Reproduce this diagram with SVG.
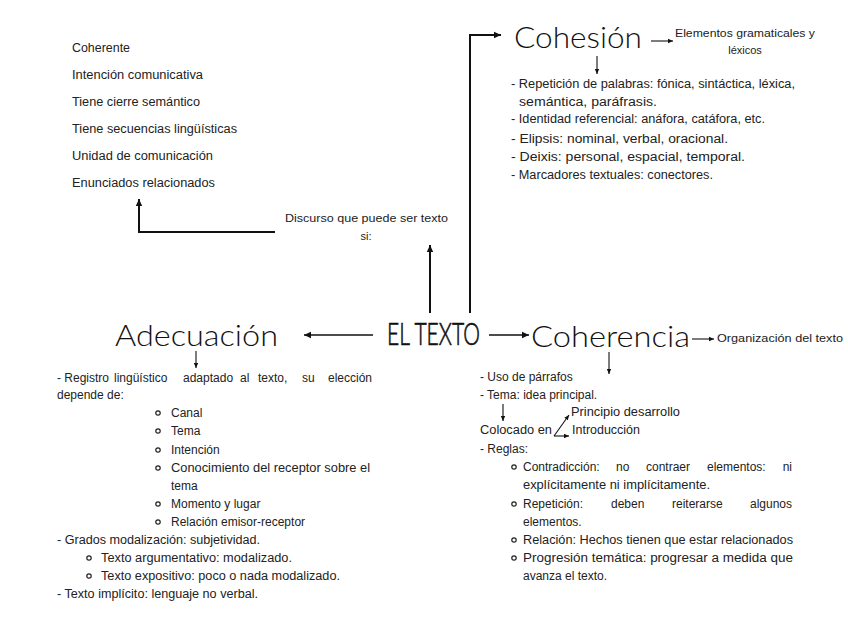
<svg xmlns="http://www.w3.org/2000/svg" width="848" height="636" viewBox="0 0 848 636">
<defs>
<marker id="ah" markerUnits="userSpaceOnUse" markerWidth="8" markerHeight="8" refX="7" refY="4" orient="auto">
<path d="M0,0.8 L7,4 L0,7.2 z" fill="#111"/>
</marker>
<marker id="ahs" markerUnits="userSpaceOnUse" markerWidth="6" markerHeight="6" refX="5" refY="3" orient="auto">
<path d="M0,0.8 L5,3 L0,5.2 z" fill="#111"/>
</marker>
<style>
text{font-family:"Liberation Sans",Arial,sans-serif;fill:#222;font-size:12px}
.t{font-family:Lato,"Liberation Sans",sans-serif;font-weight:300;font-size:30px;fill:#111}
.main{font-family:Lato,"Liberation Sans",sans-serif;font-weight:300;font-size:32px;fill:#111;stroke:#111;stroke-width:0.7}
.s{font-size:11px}
.c{stroke:#111;fill:none}
.w2{stroke-width:2}
.w15{stroke-width:1.5}
.w1{stroke-width:1.1}
.b{fill:none;stroke:#222;stroke-width:1.2}
</style>
</defs>
<rect width="848" height="636" fill="#fff"/>

<g id="connectors">
<polyline class="c w2" points="275,232 139,232 139,199" marker-end="url(#ah)"/>
<line class="c w2" x1="430" y1="313" x2="430" y2="245" marker-end="url(#ah)"/>
<polyline class="c w2" points="470,313 470,35 501,35" marker-end="url(#ah)"/>
<line class="c w1" x1="651" y1="41" x2="673" y2="41" marker-end="url(#ahs)"/>
<line class="c w1" x1="597" y1="56" x2="597" y2="74" marker-end="url(#ahs)"/>
<line class="c w15" x1="373" y1="335" x2="304" y2="335" marker-end="url(#ah)"/>
<line class="c w15" x1="489" y1="335" x2="529" y2="335" marker-end="url(#ah)"/>
<line class="c w1" x1="692" y1="339" x2="714" y2="339" marker-end="url(#ahs)"/>
<line class="c w1" x1="196" y1="351" x2="196" y2="368" marker-end="url(#ahs)"/>
<line class="c w1" x1="609" y1="352" x2="609" y2="374" marker-end="url(#ahs)"/>
<line class="c w1" x1="503" y1="404" x2="503" y2="421" marker-end="url(#ahs)"/>
<line class="c w1" x1="554" y1="436" x2="569" y2="436" marker-end="url(#ahs)"/>
<line class="c w1" x1="554" y1="436" x2="569" y2="415" marker-end="url(#ahs)"/>
</g>

<g id="texto-list">
<text x="72" y="52" textLength="58" lengthAdjust="spacingAndGlyphs">Coherente</text>
<text x="72" y="79" textLength="131" lengthAdjust="spacingAndGlyphs">Intención comunicativa</text>
<text x="72" y="106" textLength="128" lengthAdjust="spacingAndGlyphs">Tiene cierre semántico</text>
<text x="72" y="133" textLength="165" lengthAdjust="spacingAndGlyphs">Tiene secuencias lingüísticas</text>
<text x="72" y="160" textLength="141" lengthAdjust="spacingAndGlyphs">Unidad de comunicación</text>
<text x="72" y="187" textLength="143" lengthAdjust="spacingAndGlyphs">Enunciados relacionados</text>
</g>

<g id="discurso">
<text x="285" y="222" class="s" textLength="163" lengthAdjust="spacingAndGlyphs">Discurso que puede ser texto</text>
<text x="366" y="240" class="s" text-anchor="middle">si:</text>
</g>

<g id="el-texto">
<text x="387" y="345" class="main" textLength="93" lengthAdjust="spacingAndGlyphs">EL TEXTO</text>
</g>

<g id="cohesion">
<text x="514" y="48" class="t" textLength="128" lengthAdjust="spacingAndGlyphs">Cohesión</text>
<text x="675" y="37" class="s" textLength="140" lengthAdjust="spacingAndGlyphs">Elementos gramaticales y</text>
<text x="745" y="54" class="s" text-anchor="middle">léxicos</text>
<text x="511" y="88" textLength="284" lengthAdjust="spacingAndGlyphs">- Repetición de palabras: fónica, sintáctica, léxica,</text>
<text x="519" y="106" textLength="138" lengthAdjust="spacingAndGlyphs">semántica, paráfrasis.</text>
<text x="511" y="123" textLength="254" lengthAdjust="spacingAndGlyphs">- Identidad referencial: anáfora, catáfora, etc.</text>
<text x="511" y="143" textLength="217" lengthAdjust="spacingAndGlyphs">- Elipsis: nominal, verbal, oracional.</text>
<text x="511" y="161" textLength="234" lengthAdjust="spacingAndGlyphs">- Deixis: personal, espacial, temporal.</text>
<text x="511" y="179" textLength="202" lengthAdjust="spacingAndGlyphs">- Marcadores textuales: conectores.</text>
</g>

<g id="adecuacion">
<text x="115" y="346" class="t" textLength="163" lengthAdjust="spacingAndGlyphs">Adecuación</text>
<text y="382"><tspan x="57">- Registro</tspan><tspan x="114">lingüístico</tspan><tspan x="183">adaptado</tspan><tspan x="240">al</tspan><tspan x="258">texto,</tspan><tspan x="302">su</tspan><tspan x="372" text-anchor="end">elección</tspan></text>
<text x="57" y="399">depende de:</text>
<circle class="b" cx="158" cy="413" r="2.2"/><text x="171" y="417">Canal</text>
<circle class="b" cx="158" cy="431" r="2.2"/><text x="171" y="435">Tema</text>
<circle class="b" cx="158" cy="450" r="2.2"/><text x="171" y="454">Intención</text>
<circle class="b" cx="158" cy="468" r="2.2"/><text x="171" y="472" textLength="199" lengthAdjust="spacingAndGlyphs">Conocimiento del receptor sobre el</text>
<text x="171" y="490">tema</text>
<circle class="b" cx="158" cy="504" r="2.2"/><text x="171" y="508">Momento y lugar</text>
<circle class="b" cx="158" cy="522" r="2.2"/><text x="171" y="526">Relación emisor-receptor</text>
<text x="57" y="544" textLength="203" lengthAdjust="spacingAndGlyphs">- Grados modalización: subjetividad.</text>
<circle class="b" cx="89" cy="558" r="2.2"/><text x="101" y="562" textLength="191" lengthAdjust="spacingAndGlyphs">Texto argumentativo: modalizado.</text>
<circle class="b" cx="89" cy="576" r="2.2"/><text x="101" y="580" textLength="239" lengthAdjust="spacingAndGlyphs">Texto expositivo: poco o nada modalizado.</text>
<text x="57" y="598" textLength="201" lengthAdjust="spacingAndGlyphs">- Texto implícito: lenguaje no verbal.</text>
</g>

<g id="coherencia">
<text x="531" y="347" class="t" textLength="159" lengthAdjust="spacingAndGlyphs">Coherencia</text>
<text x="717" y="342" class="s" textLength="126" lengthAdjust="spacingAndGlyphs">Organización del texto</text>
<text x="480" y="381">- Uso de párrafos</text>
<text x="480" y="399">- Tema: idea principal.</text>
<text x="571" y="416" textLength="109" lengthAdjust="spacingAndGlyphs">Principio desarrollo</text>
<text x="480" y="434" textLength="72" lengthAdjust="spacingAndGlyphs">Colocado en</text>
<text x="572" y="434" textLength="68" lengthAdjust="spacingAndGlyphs">Introducción</text>
<text x="480" y="453">- Reglas:</text>
<circle class="b" cx="514" cy="467" r="2.2"/>
<text y="471"><tspan x="523">Contradicción:</tspan><tspan x="616">no</tspan><tspan x="646">contraer</tspan><tspan x="707">elementos:</tspan><tspan x="792" text-anchor="end">ni</tspan></text>
<text x="523" y="489" textLength="187" lengthAdjust="spacingAndGlyphs">explícitamente ni implícitamente.</text>
<circle class="b" cx="514" cy="504" r="2.2"/>
<text y="508"><tspan x="523">Repetición:</tspan><tspan x="611">deben</tspan><tspan x="672">reiterarse</tspan><tspan x="792" text-anchor="end">algunos</tspan></text>
<text x="523" y="526">elementos.</text>
<circle class="b" cx="514" cy="540" r="2.2"/><text x="523" y="544" textLength="270" lengthAdjust="spacingAndGlyphs">Relación: Hechos tienen que estar relacionados</text>
<circle class="b" cx="514" cy="558" r="2.2"/><text x="523" y="562" textLength="270" lengthAdjust="spacingAndGlyphs">Progresión temática: progresar a medida que</text>
<text x="523" y="580">avanza el texto.</text>
</g>
</svg>
